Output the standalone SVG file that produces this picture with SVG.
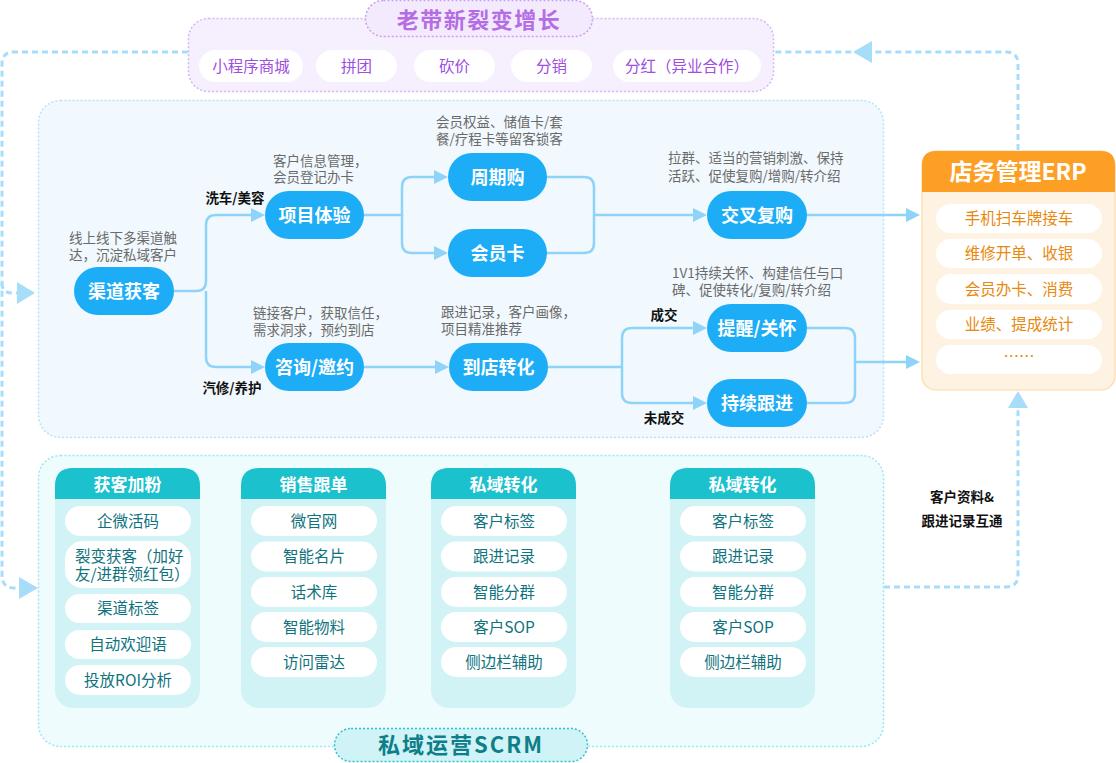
<svg xmlns="http://www.w3.org/2000/svg" width="1116" height="763" viewBox="0 0 1116 763">
<defs>
<style>
text{font-family:"Noto Sans CJK SC","Noto Sans",sans-serif;}
.node rect{fill:#1cadf6;}
.node text{fill:#fff;font-size:18px;font-weight:bold;text-anchor:middle;}
.desc{fill:#6a6a6a;font-size:13.5px;}
.elabel{fill:#111;font-size:13.5px;font-weight:bold;text-anchor:middle;}
.conn{fill:none;stroke:#8fd4f8;stroke-width:2.5;}
.dash{fill:none;stroke:#a8ddfa;stroke-width:3;stroke-dasharray:6 4;}
.darr{fill:#a8ddfa;}
.ppill rect{fill:#fff;}
.ppill text{fill:#9e4ee0;font-size:15.5px;text-anchor:middle;}
.card .hd{fill:#1bc1cd;}
.card .bd{fill:#d2f3f6;}
.card .ttl{fill:#fff;font-size:17px;font-weight:bold;text-anchor:middle;}
.card .it rect{fill:#fff;}
.it text{fill:#0f737e;font-size:15.5px;text-anchor:middle;}
.erpit rect{fill:#fff;}
.erpit text{fill:#e8880f;font-size:15.5px;text-anchor:middle;}
</style>
<marker id="arr" viewBox="0 0 14 14" refX="0" refY="7" markerWidth="14" markerHeight="14" markerUnits="userSpaceOnUse" orient="auto">
<path d="M0,0 L14,7 L0,14 z" fill="#8fd4f8"/>
</marker>
</defs>

<!-- Panels -->
<g id="panel-main">
<rect x="38.5" y="100.5" width="845" height="337" rx="22" fill="#f1f9fe" stroke="#b6e2f9" stroke-width="1.5" stroke-dasharray="2 2"/>
</g>
<g id="panel-scrm">
<rect x="38.5" y="455.5" width="845" height="291" rx="22" fill="#effcfe" stroke="#9de6f0" stroke-width="1.5" stroke-dasharray="2 2"/>
</g>

<!-- Top purple group -->
<g id="growth">
<rect x="188.5" y="18.5" width="585" height="73" rx="20" fill="#f6effe" stroke="#d7b6f4" stroke-width="1.5" stroke-dasharray="2 2"/>
<rect x="365.5" y="0.5" width="227" height="36" rx="18" fill="#f3eafe" stroke="#c99ef0" stroke-width="1.5" stroke-dasharray="2 2"/>
<text x="479" y="28" font-size="22" font-weight="bold" fill="#b46de4" text-anchor="middle" letter-spacing="1.5">老带新裂变增长</text>
<g class="ppill"><rect x="199" y="50" width="104" height="32" rx="16"/><text x="251" y="71.5">小程序商城</text></g>
<g class="ppill"><rect x="316" y="50" width="81" height="32" rx="16"/><text x="356.5" y="71.5">拼团</text></g>
<g class="ppill"><rect x="414" y="50" width="81" height="32" rx="16"/><text x="454.5" y="71.5">砍价</text></g>
<g class="ppill"><rect x="511" y="50" width="81" height="32" rx="16"/><text x="551.5" y="71.5">分销</text></g>
<g class="ppill"><rect x="613" y="50" width="148" height="32" rx="16"/><text x="687" y="71.5">分红（异业合作）</text></g>
</g>

<!-- Connectors -->
<g id="connectors">
<path class="conn" d="M174,291 H196 Q206,291 206,281 V225 Q206,215 216,215 H251" marker-end="url(#arr)"/>
<path class="conn" d="M206,291 V357 Q206,367 216,367 H251" marker-end="url(#arr)"/>
<path class="conn" d="M364,215 H402 V187 Q402,177 412,177 H434" marker-end="url(#arr)"/>
<path class="conn" d="M402,215 V243 Q402,253 412,253 H434" marker-end="url(#arr)"/>
<path class="conn" d="M364,367 H435" marker-end="url(#arr)"/>
<path class="conn" d="M547,177 H584 Q594,177 594,187 V243 Q594,253 584,253 H547"/>
<path class="conn" d="M594,215 H693" marker-end="url(#arr)"/>
<path class="conn" d="M548,367 H622"/>
<path class="conn" d="M622,367 V338 Q622,328 632,328 H693" marker-end="url(#arr)"/>
<path class="conn" d="M622,367 V393 Q622,403 632,403 H693" marker-end="url(#arr)"/>
<path class="conn" d="M807,328 H845 Q855,328 855,338 V393 Q855,403 845,403 H807"/>
<path class="conn" d="M855,362 H906" marker-end="url(#arr)"/>
<path class="conn" d="M807,215 H906" marker-end="url(#arr)"/>

<path class="dash" d="M1018,150 V64 Q1018,52 1006,52 H774"/>
<polygon class="darr" points="853,52 872,41 872,63"/>
<path class="dash" d="M188,52 H14 Q2,52 2,64 V575 Q2,588 14,588 H20"/>
<polygon class="darr" points="38,588 19,577 19,599"/>
<path class="dash" d="M2,283 Q2,293 12,293 H18"/>
<polygon class="darr" points="35,293 17,282 17,304"/>
<path class="dash" d="M884,587 H1006 Q1018,587 1018,575 V408"/>
<polygon class="darr" points="1018,391 1008,408 1028,408"/>

<text class="elabel" x="235" y="203">洗车/美容</text>
<text class="elabel" x="232" y="393">汽修/养护</text>
<text class="elabel" x="664" y="320">成交</text>
<text class="elabel" x="664" y="423">未成交</text>
<text class="elabel" x="962" y="502" font-size="14">客户资料&amp;</text>
<text class="elabel" x="962" y="526" font-size="14">跟进记录互通</text>
</g>

<!-- Flow nodes -->
<g id="n-qudao" class="node"><rect x="74" y="267" width="100" height="48" rx="24"/><text x="124" y="297.5">渠道获客</text></g>
<text class="desc" x="69" y="243">线上线下多渠道触</text>
<text class="desc" x="69" y="260">达，沉淀私域客户</text>

<g id="n-xiangmu" class="node"><rect x="265" y="191" width="99" height="48" rx="24"/><text x="314.5" y="221.5">项目体验</text></g>
<text class="desc" x="273" y="166">客户信息管理，</text>
<text class="desc" x="273" y="182">会员登记办卡</text>

<g id="n-zixun" class="node"><rect x="265" y="343" width="99" height="48" rx="24"/><text x="314.5" y="373.5">咨询/邀约</text></g>
<text class="desc" x="253" y="318">链接客户，获取信任，</text>
<text class="desc" x="253" y="335">需求洞求，预约到店</text>

<g id="n-zhouqi" class="node"><rect x="448" y="153" width="99" height="48" rx="24"/><text x="497.5" y="183.5">周期购</text></g>
<text class="desc" x="436" y="127">会员权益、储值卡/套</text>
<text class="desc" x="436" y="144">餐/疗程卡等留客锁客</text>

<g id="n-huiyuan" class="node"><rect x="448" y="229" width="99" height="48" rx="24"/><text x="497.5" y="259.5">会员卡</text></g>

<g id="n-daodian" class="node"><rect x="449" y="343" width="99" height="48" rx="24"/><text x="498.5" y="373.5">到店转化</text></g>
<text class="desc" x="441" y="317">跟进记录，客户画像，</text>
<text class="desc" x="441" y="334">项目精准推荐</text>

<g id="n-jiaocha" class="node"><rect x="707" y="191" width="100" height="48" rx="24"/><text x="757" y="221.5">交叉复购</text></g>
<text class="desc" x="668" y="163">拉群、适当的营销刺激、保持</text>
<text class="desc" x="668" y="181">活跃、促使复购/增购/转介绍</text>

<g id="n-tixing" class="node"><rect x="707" y="304" width="100" height="48" rx="24"/><text x="757" y="334.5">提醒/关怀</text></g>
<text class="desc" x="672" y="278">1V1持续关怀、构建信任与口</text>
<text class="desc" x="672" y="295">碑、促使转化/复购/转介绍</text>

<g id="n-chixu" class="node"><rect x="707" y="379" width="100" height="48" rx="24"/><text x="757" y="409.5">持续跟进</text></g>

<!-- ERP -->
<g id="erp">
<rect x="922" y="151" width="193" height="239" rx="14" fill="#fef3e3" stroke="#fcd9a8" stroke-width="1.2"/>
<path d="M922,192 V165 Q922,151 936,151 H1101 Q1115,151 1115,165 V192 Z" fill="#fc9f24"/>
<text x="1018" y="180" font-size="23" font-weight="bold" fill="#fff" text-anchor="middle">店务管理ERP</text>
<g class="erpit"><rect x="936" y="204" width="166" height="29" rx="14.5"/><text x="1019" y="224">手机扫车牌接车</text></g>
<g class="erpit"><rect x="936" y="239" width="166" height="29" rx="14.5"/><text x="1019" y="259">维修开单、收银</text></g>
<g class="erpit"><rect x="936" y="274" width="166" height="30" rx="15"/><text x="1019" y="294.5">会员办卡、消费</text></g>
<g class="erpit"><rect x="936" y="310" width="166" height="29" rx="14.5"/><text x="1019" y="330">业绩、提成统计</text></g>
<g class="erpit"><rect x="936" y="345" width="166" height="29" rx="14.5"/><text x="1019" y="362">……</text></g>
</g>

<!-- SCRM cards -->
<g id="card-huoke" class="card">
<rect class="bd" x="55" y="468" width="145" height="240" rx="18"/>
<path class="hd" d="M55,499 V486 Q55,468 73,468 H182 Q200,468 200,486 V499 Z"/>
<text class="ttl" x="127.5" y="491">获客加粉</text>
<g class="it"><rect x="65" y="506" width="126" height="30" rx="15"/><text x="128" y="526.5">企微活码</text></g>
<g class="it"><rect x="65" y="541" width="126" height="47" rx="18"/><text x="75" y="562" style="text-anchor:start">裂变获客（加好</text><text x="75" y="580" style="text-anchor:start">友/进群领红包）</text></g>
<g class="it"><rect x="65" y="594" width="126" height="29" rx="14.5"/><text x="128" y="614">渠道标签</text></g>
<g class="it"><rect x="65" y="630" width="126" height="29" rx="14.5"/><text x="128" y="650">自动欢迎语</text></g>
<g class="it"><rect x="65" y="665" width="126" height="30" rx="15"/><text x="128" y="685.5">投放ROI分析</text></g>
</g>

<g id="card-xiaoshou" class="card">
<rect class="bd" x="241" y="468" width="145" height="240" rx="18"/>
<path class="hd" d="M241,499 V486 Q241,468 259,468 H368 Q386,468 386,486 V499 Z"/>
<text class="ttl" x="313.5" y="491">销售跟单</text>
<g class="it"><rect x="251" y="506" width="126" height="30" rx="15"/><text x="314" y="526.5">微官网</text></g>
<g class="it"><rect x="251" y="541.5" width="126" height="30" rx="15"/><text x="314" y="562">智能名片</text></g>
<g class="it"><rect x="251" y="577" width="126" height="30" rx="15"/><text x="314" y="597.5">话术库</text></g>
<g class="it"><rect x="251" y="612" width="126" height="30" rx="15"/><text x="314" y="632.5">智能物料</text></g>
<g class="it"><rect x="251" y="647" width="126" height="30" rx="15"/><text x="314" y="667.5">访问雷达</text></g>
</g>

<g id="card-siyu1" class="card">
<rect class="bd" x="431" y="468" width="145" height="240" rx="18"/>
<path class="hd" d="M431,499 V486 Q431,468 449,468 H558 Q576,468 576,486 V499 Z"/>
<text class="ttl" x="503.5" y="491">私域转化</text>
<g class="it"><rect x="441" y="506" width="126" height="30" rx="15"/><text x="504" y="526.5">客户标签</text></g>
<g class="it"><rect x="441" y="541.5" width="126" height="30" rx="15"/><text x="504" y="562">跟进记录</text></g>
<g class="it"><rect x="441" y="577" width="126" height="30" rx="15"/><text x="504" y="597.5">智能分群</text></g>
<g class="it"><rect x="441" y="612" width="126" height="30" rx="15"/><text x="504" y="632.5">客户SOP</text></g>
<g class="it"><rect x="441" y="647" width="126" height="30" rx="15"/><text x="504" y="667.5">侧边栏辅助</text></g>
</g>

<g id="card-siyu2" class="card">
<rect class="bd" x="670" y="468" width="145" height="240" rx="18"/>
<path class="hd" d="M670,499 V486 Q670,468 688,468 H797 Q815,468 815,486 V499 Z"/>
<text class="ttl" x="742.5" y="491">私域转化</text>
<g class="it"><rect x="680" y="506" width="126" height="30" rx="15"/><text x="743" y="526.5">客户标签</text></g>
<g class="it"><rect x="680" y="541.5" width="126" height="30" rx="15"/><text x="743" y="562">跟进记录</text></g>
<g class="it"><rect x="680" y="577" width="126" height="30" rx="15"/><text x="743" y="597.5">智能分群</text></g>
<g class="it"><rect x="680" y="612" width="126" height="30" rx="15"/><text x="743" y="632.5">客户SOP</text></g>
<g class="it"><rect x="680" y="647" width="126" height="30" rx="15"/><text x="743" y="667.5">侧边栏辅助</text></g>
</g>

<g id="scrm-title">
<rect x="334.5" y="728.5" width="253" height="33" rx="16.5" fill="#cff3f6" stroke="#2fc2cf" stroke-width="1.5" stroke-dasharray="2 2"/>
<text x="461" y="753" font-size="22" font-weight="bold" fill="#0e7f89" text-anchor="middle" letter-spacing="2">私域运营SCRM</text>
</g>
</svg>
